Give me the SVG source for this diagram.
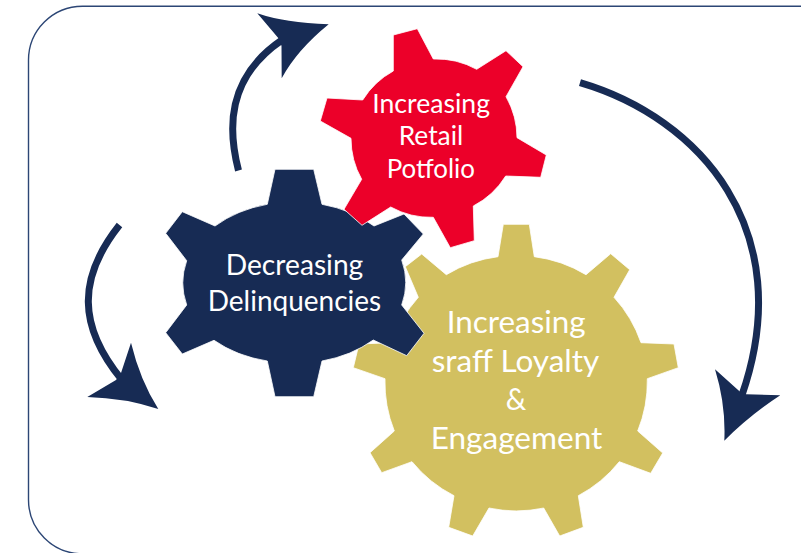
<svg xmlns="http://www.w3.org/2000/svg" width="801" height="553" viewBox="0 0 801 553">
<style>
.gear{stroke:#fff;stroke-width:.8;stroke-linejoin:miter}
.lbl{font-family:"Lato","Noto Sans","Liberation Sans",sans-serif;fill:#fff;text-anchor:start}
.shaft{fill:none;stroke:#172b54;stroke-width:7}
.head{fill:#172b54}
</style>
<rect width="801" height="553" fill="#fff"/>
<rect x="28.5" y="6.2" width="830" height="547.6" rx="54" ry="54" fill="none" stroke="#2c4675" stroke-width="1.4"/>
<g id="connectors">
<path class="shaft" d="M238.5 170.5C228 130 226 78 282 40"/>
<path class="head" d="M257.3 13.3Q285 23 328.7 24.3Q297 50 281.7 78.3L281.5 46L279.3 39.3Z"/>
<path class="shaft" d="M119.5 225C77.5 278 77.5 326 122 380"/>
<path class="head" d="M131 342.7Q140 380 158.3 409Q125 398 87.3 397L116 380L121 373Z"/>
<path class="shaft" d="M580 82.7C700 118 799 230 742 395"/>
<path class="head" d="M715 369.3L740 391.7L746 394.3L780.3 395.3Q750 415 724.3 440.7Q726 405 715 369.3Z"/>
</g>
<g id="gear-yellow">
<path class="gear" fill="#d2c060" d="M503.3 224.3H529.3L534.3 256.7A131 131 0 0 1 586 274.7L610.7 253.7L629.7 269.7L614 297.3A131 131 0 0 1 641 342.7L674 344L678.3 367.7L647.3 378.7A131 131 0 0 1 637.7 431L662.7 453L650.7 473.3L619.3 461.7A131 131 0 0 1 578.3 495.7L583.3 527.3L559.7 536L543.7 508A131 131 0 0 1 489 508L472.7 536L448.7 527.3L454 495.7A131 131 0 0 1 412 461.7L381.7 472.7L370 452.7L394.3 431A131 131 0 0 1 385 378.7L353.3 367.7L359 344L392 342.7A131 131 0 0 1 418.3 297.3L405.3 266.7L421.7 254L446.3 274.7A131 131 0 0 1 498 256.7Z"/>
<text class="lbl" x="446.7" y="333" font-size="30" textLength="139" lengthAdjust="spacingAndGlyphs">Increasing</text>
<text class="lbl" x="431.7" y="372" font-size="30" textLength="167.6" lengthAdjust="spacingAndGlyphs">sraff Loyalty</text>
<text class="lbl" x="505.7" y="410" font-size="30" textLength="20.5" lengthAdjust="spacingAndGlyphs">&amp;</text>
<text class="lbl" x="430.7" y="449" font-size="30" textLength="171.7" lengthAdjust="spacingAndGlyphs">Engagement</text>
</g>
<g id="gear-blue">
<path class="gear" fill="#172b54" d="M275 169.3H313.7L322 204.3A112 85 0 0 1 374 226L404 214L423.3 234L401.7 260A112 85 0 0 1 401.7 305L424 333.3L406.7 355.7L373.3 340A112 85 0 0 1 322 361L313.7 396.7H275L267.3 361A112 85 0 0 1 214 340.3L182.3 354L165.7 332.7L186.7 305A112 85 0 0 1 186.7 260.7L165.7 233.3L182.3 211.7L215 226A112 85 0 0 1 267.3 204.3Z"/>
<text class="lbl" x="225.7" y="274.5" font-size="28.5" textLength="137.6" lengthAdjust="spacingAndGlyphs">Decreasing</text>
<text class="lbl" x="207.7" y="310.5" font-size="28.5" textLength="173.5" lengthAdjust="spacingAndGlyphs">Delinquencies</text>
</g>
<g id="gear-red">
<path class="gear" fill="#ec0029" d="M393.3 35L417.3 28.7L433.3 59A83 83 0 0 1 476.7 69.3L506 50.7L523 66.7L506 96.7A83 83 0 0 1 517 137.7L546.3 155L540.7 177.3L505.7 176A83 83 0 0 1 473.3 206L474.3 240.7L450.3 247.7L433.3 217.3A83 83 0 0 1 390.7 207L362 225.3L344 209.3L361.7 179.3A83 83 0 0 1 351 138.3L320.3 121L327 98L362.7 100A83 83 0 0 1 393.3 71Z"/>
<text class="lbl" x="372.3" y="113.3" font-size="26.5" textLength="117.7" lengthAdjust="spacingAndGlyphs">Increasing</text>
<text class="lbl" x="398.7" y="145" font-size="26.5" textLength="64.6" lengthAdjust="spacingAndGlyphs">Retail</text>
<text class="lbl" x="386.7" y="177.7" font-size="26.5" textLength="88.3" lengthAdjust="spacingAndGlyphs">Potfolio</text>
</g>
</svg>
